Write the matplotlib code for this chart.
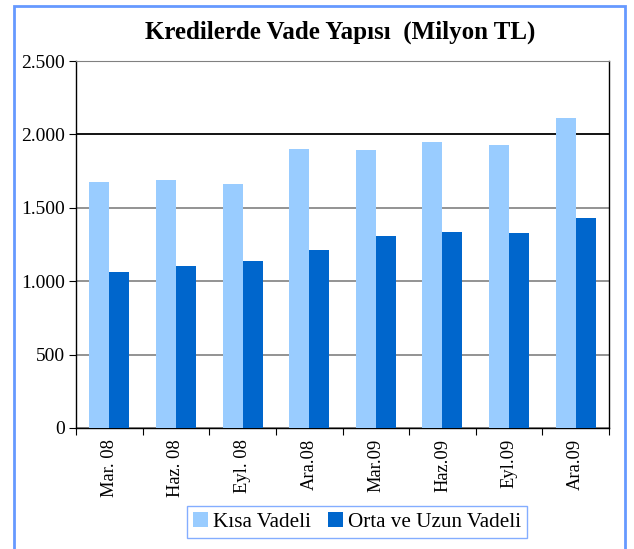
import matplotlib
matplotlib.use("Agg")
import matplotlib.pyplot as plt
import numpy as np
from matplotlib.patches import Rectangle

categories = ["Mar. 08", "Haz. 08", "Eyl. 08", "Ara.08", "Mar.09", "Haz.09", "Eyl.09", "Ara.09"]
kisa = [1676, 1690, 1662, 1900, 1894, 1948, 1928, 2112]
orta = [1063, 1104, 1138, 1213, 1308, 1335, 1328, 1430]
yticks = [0, 500, 1000, 1500, 2000, 2500]
ylabels = ["0", "500", "1.000", "1.500", "2.000", "2.500"]

plt.rcParams['font.family'] = ['Liberation Serif', 'DejaVu Serif']

W, H = 634, 549
fig = plt.figure(figsize=(W/100, H/100), dpi=100)
ax = fig.add_axes([76/W, 1-428/H, (609-76)/W, (428-61)/H])

x = np.arange(len(categories))
bw = 0.3
ax.bar(x - bw/2, kisa, bw, color='#99ccff', label='Kısa Vadeli', zorder=3)
ax.bar(x + bw/2, orta, bw, color='#0066cc', label='Orta ve Uzun Vadeli', zorder=3)

ax.set_xlim(-0.5, len(categories) - 0.5)
ax.set_ylim(0, 2500)
ax.set_yticks(yticks)
ax.set_yticklabels(ylabels, fontsize=14)
ax.yaxis.grid(True, color='#808080', linewidth=1.2, zorder=0)
ax.axhline(2000, color='black', linewidth=1.2, zorder=1)
ax.set_axisbelow(True)

ax.set_xticks(np.arange(-0.5, len(categories)), minor=False)
ax.set_xticklabels([])
ax.set_xticks(x, minor=True)
ax.set_xticklabels(categories, minor=True, rotation=90, fontsize=13.3)
ax.tick_params(axis='x', which='minor', length=0, pad=8)
ax.tick_params(axis='x', which='major', length=5, direction='out', color='black')
ax.tick_params(axis='y', length=5, direction='out', pad=3)

for s in ['left', 'right', 'bottom']:
    ax.spines[s].set_color('black')
    ax.spines[s].set_linewidth(1.0)
ax.spines['top'].set_color('#808080')

fig.text(340/W, 1-32/H, "Kredilerde Vade Yapısı  (Milyon TL)", ha='center', va='center',
         fontsize=18, fontweight='bold')

leg = fig.legend(loc='center', bbox_to_anchor=(357/W, 1-522/H), ncol=2, fontsize=15.2,
                 frameon=True, fancybox=False, handlelength=0.7, handleheight=0.7,
                 handletextpad=0.25, columnspacing=0.8, borderpad=0.3, borderaxespad=0)
leg.get_frame().set_edgecolor('#6699ff')
leg.get_frame().set_linewidth(1.0)

border = Rectangle((14/W, -0.01), (625-14)/W, (1-6/H) + 0.01, transform=fig.transFigure,
                   fill=False, edgecolor='#6699ff', linewidth=2, clip_on=False)
fig.patches.append(border)

fig.savefig("out.png", dpi=100)
